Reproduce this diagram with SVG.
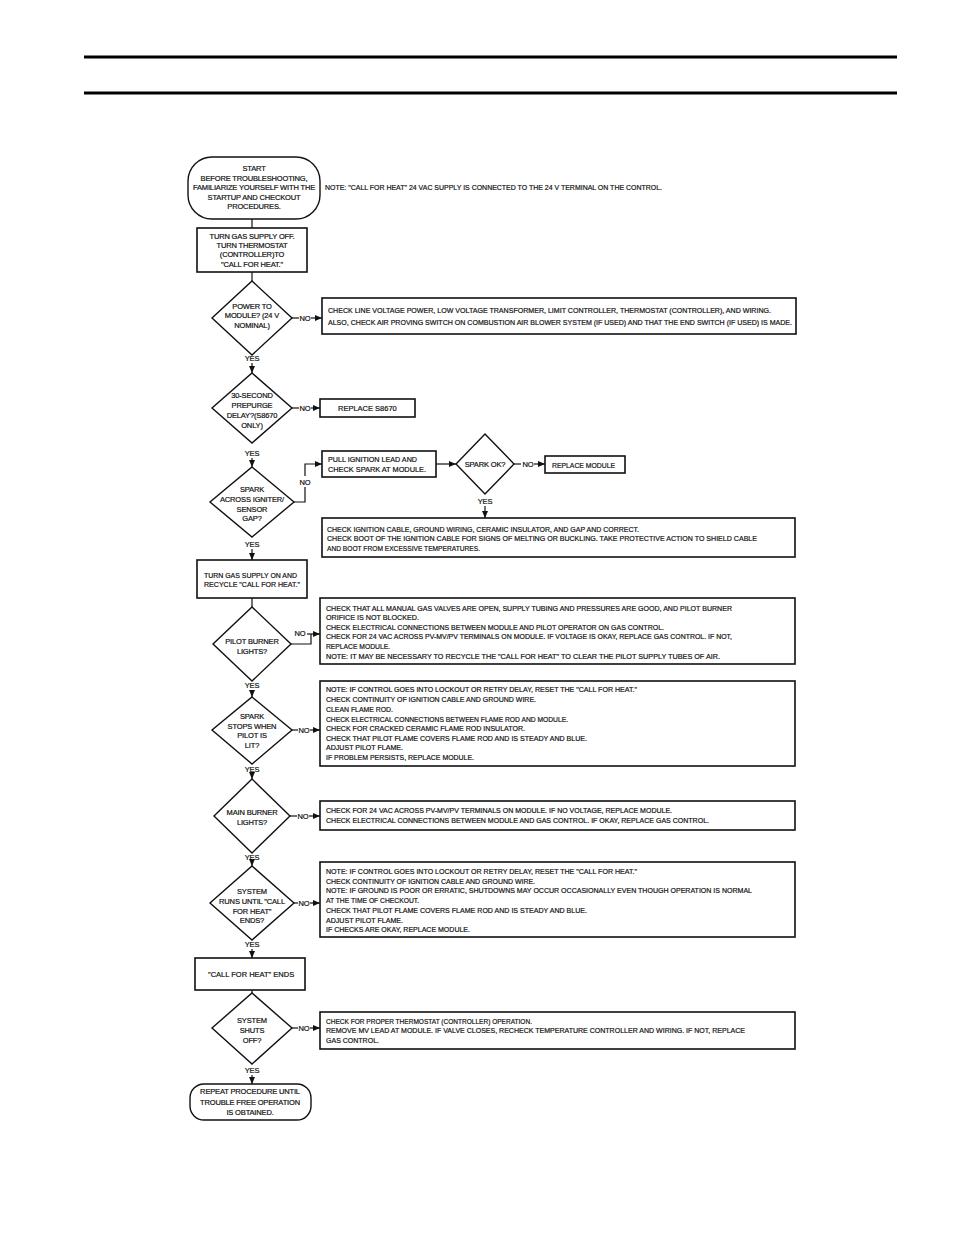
<svg xmlns="http://www.w3.org/2000/svg" width="954" height="1235" viewBox="0 0 954 1235">
<defs>
<marker id="ah" markerWidth="7" markerHeight="6" refX="7" refY="3" orient="auto" markerUnits="userSpaceOnUse"><path d="M0,0 L7,3 L0,6 z" fill="#111"/></marker>
<style>
.bg{fill:#fff}
.shape{fill:#fff;stroke:#111;stroke-width:1.4}
.box{fill:#fff;stroke:#111;stroke-width:1.6}
.ln{fill:none;stroke:#111;stroke-width:1.2}
.ar{fill:none;stroke:#111;stroke-width:1.2;marker-end:url(#ah)}
text{font-family:"Liberation Sans",Arial,sans-serif;font-size:7.5px;fill:#111;stroke:#111;stroke-width:0.2}
.c{text-anchor:middle;letter-spacing:-0.15px}
.hdr{stroke:#000;stroke-width:3}
</style>
</defs>
<rect class="bg" x="0" y="0" width="954" height="1235"/>
<line class="hdr" x1="84" y1="57" x2="897" y2="57"/>
<line class="hdr" x1="84" y1="93" x2="897" y2="93"/>

<g id="connectors">
<line class="ln" x1="252" y1="219" x2="252" y2="228"/>
<line class="ln" x1="252" y1="272" x2="252" y2="281"/>
<line class="ln" x1="292" y1="318" x2="299" y2="318"/><text x="305" y="321" class="c">NO</text><line class="ar" x1="311" y1="318" x2="322" y2="318"/>
<text x="252" y="361" class="c">YES</text><line class="ar" x1="252" y1="363" x2="252" y2="373"/>
<line class="ln" x1="292" y1="408" x2="299" y2="408"/><text x="305" y="411" class="c">NO</text><line class="ar" x1="311" y1="408" x2="320" y2="408"/>
<text x="252" y="456" class="c">YES</text><line class="ar" x1="252" y1="458" x2="252" y2="467"/>
<path class="ar" d="M294,502 H305 V464 H322"/><rect class="bg" x="299" y="476" width="12" height="11"/><text x="305" y="485" class="c">NO</text>
<line class="ar" x1="436" y1="464" x2="456" y2="464"/>
<line class="ln" x1="514" y1="464" x2="521" y2="464"/><text x="528" y="467" class="c">NO</text><line class="ar" x1="534" y1="464" x2="545" y2="464"/>
<text x="485" y="504" class="c">YES</text><line class="ar" x1="485" y1="506" x2="485" y2="518"/>
<text x="252" y="547" class="c">YES</text><line class="ar" x1="252" y1="549" x2="252" y2="560"/>
<line class="ln" x1="252" y1="598" x2="252" y2="607"/>
<path class="ln" d="M291,644 H311 V634"/><text x="300" y="636" class="c">NO</text><line class="ar" x1="307" y1="634" x2="320" y2="634"/>
<text x="252" y="688" class="c">YES</text><line class="ar" x1="252" y1="690" x2="252" y2="697"/>
<line class="ln" x1="292" y1="730" x2="298" y2="730"/><text x="304" y="733" class="c">NO</text><line class="ar" x1="310" y1="730" x2="320" y2="730"/>
<text x="252" y="772" class="c">YES</text><line class="ar" x1="252" y1="774" x2="252" y2="779"/>
<line class="ln" x1="290" y1="816" x2="297" y2="816"/><text x="303" y="819" class="c">NO</text><line class="ar" x1="309" y1="816" x2="320" y2="816"/>
<text x="252" y="860" class="c">YES</text><line class="ar" x1="252" y1="861" x2="252" y2="866"/>
<line class="ln" x1="294" y1="903" x2="298" y2="903"/><text x="304" y="906" class="c">NO</text><line class="ar" x1="310" y1="903" x2="320" y2="903"/>
<text x="252" y="947" class="c">YES</text><line class="ar" x1="252" y1="949" x2="252" y2="958"/>
<line class="ln" x1="252" y1="990" x2="252" y2="993"/>
<line class="ln" x1="292" y1="1028" x2="298" y2="1028"/><text x="304" y="1031" class="c">NO</text><line class="ar" x1="310" y1="1028" x2="320" y2="1028"/>
<text x="252" y="1073" class="c">YES</text><line class="ar" x1="252" y1="1075" x2="252" y2="1084"/>
</g>

<g id="start">
<rect class="shape" x="188" y="157" width="132" height="62" rx="24"/>
<text x="254" y="171" class="c">START</text>
<text x="254" y="180.5" class="c">BEFORE TROUBLESHOOTING,</text>
<text x="254" y="190" class="c">FAMILIARIZE YOURSELF WITH THE</text>
<text x="254" y="199.5" class="c">STARTUP AND CHECKOUT</text>
<text x="254" y="209" class="c">PROCEDURES.</text>
</g>
<g id="note">
<text x="325" y="190" textLength="337" lengthAdjust="spacingAndGlyphs">NOTE: "CALL FOR HEAT" 24 VAC SUPPLY IS CONNECTED TO THE 24 V TERMINAL ON THE CONTROL.</text>
</g>
<g id="gasoff">
<rect class="box" x="197" y="228" width="110" height="44"/>
<text x="252" y="239" class="c">TURN GAS SUPPLY OFF.</text>
<text x="252" y="248" class="c">TURN THERMOSTAT</text>
<text x="252" y="257" class="c">(CONTROLLER)TO</text>
<text x="252" y="267" class="c">"CALL FOR HEAT."</text>
</g>
<g id="d-power">
<polygon class="shape" points="252,281 292,318 252,355 212,318"/>
<text x="252" y="309" class="c">POWER TO</text>
<text x="252" y="318" class="c">MODULE? (24 V</text>
<text x="252" y="328" class="c">NOMINAL)</text>
</g>
<g id="b-power">
<rect class="box" x="322" y="298" width="474" height="36"/>
<text x="328" y="313" textLength="443" lengthAdjust="spacingAndGlyphs">CHECK LINE VOLTAGE POWER, LOW VOLTAGE TRANSFORMER, LIMIT CONTROLLER, THERMOSTAT  (CONTROLLER), AND WIRING.</text>
<text x="328" y="325" textLength="464" lengthAdjust="spacingAndGlyphs">ALSO, CHECK AIR PROVING SWITCH ON COMBUSTION AIR BLOWER SYSTEM (IF USED) AND THAT THE END SWITCH (IF USED) IS MADE.</text>
</g>
<g id="d-prepurge">
<polygon class="shape" points="252,373 292,408 252,443 212,408"/>
<text x="252" y="398" class="c">30-SECOND</text>
<text x="252" y="408" class="c">PREPURGE</text>
<text x="252" y="418" class="c">DELAY?(S8670</text>
<text x="252" y="428" class="c">ONLY)</text>
</g>
<g id="b-replace-s8670">
<rect class="box" x="320" y="399" width="95" height="18"/>
<text x="338" y="411">REPLACE S8670</text>
</g>
<g id="d-spark">
<polygon class="shape" points="252,467 294,502 252,537 210,502"/>
<text x="252" y="492" class="c">SPARK</text>
<text x="252" y="502" class="c">ACROSS IGNITER/</text>
<text x="252" y="512" class="c">SENSOR</text>
<text x="252" y="521" class="c">GAP?</text>
</g>
<g id="b-pull">
<rect class="box" x="322" y="451" width="114" height="26"/>
<text x="328" y="462" textLength="89" lengthAdjust="spacingAndGlyphs">PULL IGNITION LEAD AND</text>
<text x="328" y="472" textLength="98" lengthAdjust="spacingAndGlyphs">CHECK  SPARK AT MODULE.</text>
</g>
<g id="d-sparkok">
<polygon class="shape" points="485,434 514,464 485,494 456,464"/>
<text x="485" y="467" class="c">SPARK OK?</text>
</g>
<g id="b-replace-module">
<rect class="box" x="545" y="456" width="80" height="17"/>
<text x="552" y="468" textLength="63" lengthAdjust="spacingAndGlyphs">REPLACE MODULE</text>
</g>
<g id="b-ignition">
<rect class="box" x="322" y="518" width="473" height="39"/>
<text x="327" y="532" textLength="312" lengthAdjust="spacingAndGlyphs">CHECK IGNITION CABLE, GROUND WIRING, CERAMIC INSULATOR, AND GAP AND CORRECT.</text>
<text x="327" y="541" textLength="430" lengthAdjust="spacingAndGlyphs">CHECK BOOT OF THE IGNITION CABLE FOR SIGNS OF MELTING OR BUCKLING. TAKE PROTECTIVE ACTION TO SHIELD CABLE</text>
<text x="327" y="551" textLength="153" lengthAdjust="spacingAndGlyphs">AND BOOT FROM EXCESSIVE TEMPERATURES.</text>
</g>
<g id="gason">
<rect class="box" x="197" y="560" width="110" height="38"/>
<text x="204" y="578" textLength="93" lengthAdjust="spacingAndGlyphs">TURN GAS SUPPLY ON AND</text>
<text x="204" y="587" textLength="96" lengthAdjust="spacingAndGlyphs">RECYCLE "CALL FOR HEAT."</text>
</g>
<g id="d-pilot">
<polygon class="shape" points="252,607 291,644 252,681 213,644"/>
<text x="252" y="644" class="c">PILOT BURNER</text>
<text x="252" y="654" class="c">LIGHTS?</text>
</g>
<g id="b-pilot">
<rect class="box" x="320" y="598" width="475" height="66"/>
<text x="326" y="611" textLength="406" lengthAdjust="spacingAndGlyphs">CHECK THAT ALL MANUAL GAS VALVES ARE OPEN, SUPPLY TUBING AND PRESSURES ARE GOOD, AND PILOT BURNER</text>
<text x="326" y="620" textLength="93" lengthAdjust="spacingAndGlyphs">ORIFICE IS NOT BLOCKED.</text>
<text x="326" y="630" textLength="338" lengthAdjust="spacingAndGlyphs">CHECK ELECTRICAL CONNECTIONS BETWEEN MODULE AND PILOT OPERATOR ON GAS CONTROL.</text>
<text x="326" y="639" textLength="406" lengthAdjust="spacingAndGlyphs">CHECK FOR 24 VAC ACROSS PV-MV/PV TERMINALS ON MODULE. IF VOLTAGE IS OKAY, REPLACE GAS CONTROL. IF NOT,</text>
<text x="326" y="649" textLength="64" lengthAdjust="spacingAndGlyphs">REPLACE MODULE.</text>
<text x="326" y="659" textLength="394" lengthAdjust="spacingAndGlyphs">NOTE: IT MAY BE NECESSARY TO RECYCLE THE "CALL FOR HEAT" TO CLEAR THE PILOT SUPPLY TUBES OF AIR.</text>
</g>
<g id="d-sparkstops">
<polygon class="shape" points="252,697 292,730 252,764 212,730"/>
<text x="252" y="719" class="c">SPARK</text>
<text x="252" y="729" class="c">STOPS WHEN</text>
<text x="252" y="738" class="c">PILOT IS</text>
<text x="252" y="748" class="c">LIT?</text>
</g>
<g id="b-sparkstops">
<rect class="box" x="320" y="681" width="475" height="85"/>
<text x="326" y="692" textLength="311" lengthAdjust="spacingAndGlyphs">NOTE: IF CONTROL GOES INTO LOCKOUT OR RETRY DELAY, RESET THE "CALL FOR HEAT."</text>
<text x="326" y="702" textLength="210" lengthAdjust="spacingAndGlyphs">CHECK CONTINUITY OF IGNITION CABLE AND GROUND WIRE.</text>
<text x="326" y="712" textLength="67" lengthAdjust="spacingAndGlyphs">CLEAN FLAME ROD.</text>
<text x="326" y="722" textLength="242" lengthAdjust="spacingAndGlyphs">CHECK ELECTRICAL CONNECTIONS BETWEEN FLAME ROD AND MODULE.</text>
<text x="326" y="731" textLength="199" lengthAdjust="spacingAndGlyphs">CHECK FOR CRACKED CERAMIC FLAME ROD INSULATOR.</text>
<text x="326" y="741" textLength="261" lengthAdjust="spacingAndGlyphs">CHECK THAT PILOT FLAME COVERS FLAME ROD AND IS STEADY AND BLUE.</text>
<text x="326" y="750" textLength="77" lengthAdjust="spacingAndGlyphs">ADJUST PILOT FLAME.</text>
<text x="326" y="760" textLength="148" lengthAdjust="spacingAndGlyphs">IF PROBLEM PERSISTS, REPLACE MODULE.</text>
</g>
<g id="d-main">
<polygon class="shape" points="252,779 290,816 252,853 214,816"/>
<text x="252" y="815" class="c">MAIN BURNER</text>
<text x="252" y="825" class="c">LIGHTS?</text>
</g>
<g id="b-main">
<rect class="box" x="320" y="801" width="475" height="29"/>
<text x="326" y="813" textLength="346" lengthAdjust="spacingAndGlyphs">CHECK FOR 24 VAC ACROSS PV-MV/PV TERMINALS ON MODULE. IF NO VOLTAGE, REPLACE MODULE.</text>
<text x="326" y="823" textLength="383" lengthAdjust="spacingAndGlyphs">CHECK ELECTRICAL CONNECTIONS BETWEEN MODULE AND GAS CONTROL. IF OKAY, REPLACE GAS CONTROL.</text>
</g>
<g id="d-runs">
<polygon class="shape" points="252,866 294,903 252,940 210,903"/>
<text x="252" y="894" class="c">SYSTEM</text>
<text x="252" y="904" class="c">RUNS UNTIL "CALL</text>
<text x="252" y="914" class="c">FOR HEAT"</text>
<text x="252" y="923" class="c">ENDS?</text>
</g>
<g id="b-runs">
<rect class="box" x="320" y="862" width="475" height="75"/>
<text x="326" y="874" textLength="311" lengthAdjust="spacingAndGlyphs">NOTE: IF CONTROL GOES INTO LOCKOUT OR RETRY DELAY, RESET THE "CALL FOR HEAT."</text>
<text x="326" y="884" textLength="209" lengthAdjust="spacingAndGlyphs">CHECK CONTINUITY OF IGNITION CABLE AND GROUND WIRE.</text>
<text x="326" y="893" textLength="426" lengthAdjust="spacingAndGlyphs">NOTE: IF GROUND IS POOR OR ERRATIC, SHUTDOWNS MAY OCCUR OCCASIONALLY EVEN THOUGH OPERATION IS NORMAL</text>
<text x="326" y="903" textLength="93" lengthAdjust="spacingAndGlyphs">AT THE TIME OF CHECKOUT.</text>
<text x="326" y="913" textLength="261" lengthAdjust="spacingAndGlyphs">CHECK THAT PILOT FLAME COVERS FLAME ROD AND IS STEADY AND BLUE.</text>
<text x="326" y="923" textLength="77" lengthAdjust="spacingAndGlyphs">ADJUST PILOT FLAME.</text>
<text x="326" y="932" textLength="144" lengthAdjust="spacingAndGlyphs">IF CHECKS ARE OKAY, REPLACE MODULE.</text>
</g>
<g id="cfh-ends">
<rect class="box" x="195" y="958" width="110" height="32"/>
<text x="208" y="977">"CALL FOR HEAT" ENDS</text>
</g>
<g id="d-shuts">
<polygon class="shape" points="252,993 292,1028 252,1064 212,1028"/>
<text x="252" y="1023" class="c">SYSTEM</text>
<text x="252" y="1033" class="c">SHUTS</text>
<text x="252" y="1043" class="c">OFF?</text>
</g>
<g id="b-shuts">
<rect class="box" x="320" y="1012" width="475" height="37"/>
<text x="326" y="1024" textLength="206" lengthAdjust="spacingAndGlyphs">CHECK FOR PROPER THERMOSTAT (CONTROLLER) OPERATION.</text>
<text x="326" y="1033" textLength="419" lengthAdjust="spacingAndGlyphs">REMOVE MV LEAD AT MODULE. IF VALVE CLOSES, RECHECK TEMPERATURE CONTROLLER AND WIRING. IF NOT, REPLACE</text>
<text x="326" y="1043" textLength="53" lengthAdjust="spacingAndGlyphs">GAS CONTROL.</text>
</g>
<g id="end">
<rect class="shape" x="190" y="1084" width="121" height="36" rx="14"/>
<text x="250" y="1094" class="c">REPEAT PROCEDURE UNTIL</text>
<text x="250" y="1104.5" class="c">TROUBLE FREE OPERATION</text>
<text x="250" y="1115" class="c">IS OBTAINED.</text>
</g>
</svg>
